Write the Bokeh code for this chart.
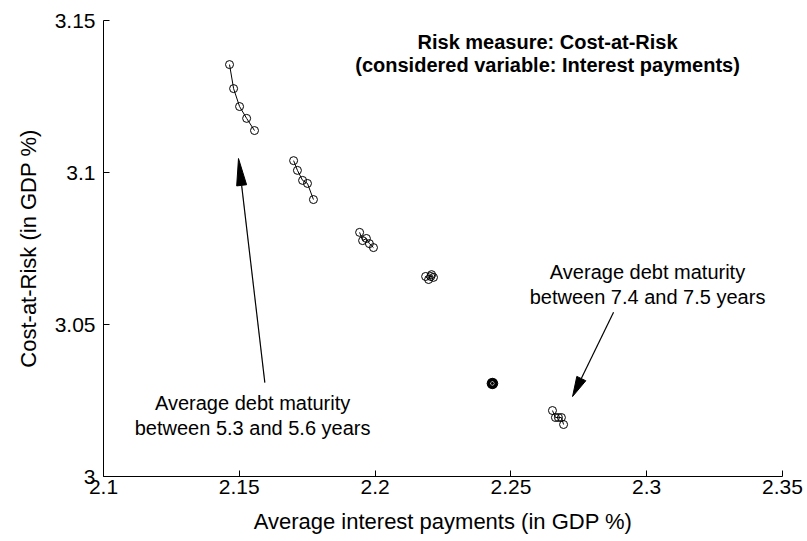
from bokeh.plotting import figure
from bokeh.models import Range1d, FixedTicker, CustomJSTickFormatter
from bokeh.core.properties import value
from bokeh.embed import file_html
from bokeh.resources import INLINE
import math

# ---- data ----
c1_x = [2.1464, 2.1479, 2.1501, 2.1527, 2.1556]
c1_y = [3.1355, 3.1276, 3.1217, 3.1178, 3.1138]
c2_x = [2.1700, 2.1714, 2.1733, 2.1751, 2.1773]
c2_y = [3.1039, 3.1007, 3.0974, 3.0964, 3.0911]
c3_x = [2.1943, 2.1954, 2.1968, 2.1979, 2.1994]
c3_y = [3.0803, 3.0776, 3.0783, 3.0766, 3.0753]
c4_x = [2.2186, 2.2197, 2.2208, 2.2215, 2.2205]
c4_y = [3.0658, 3.0648, 3.0664, 3.0655, 3.0658]
c5_x = [2.2427, 2.2432, 2.2437, 2.2432, 2.2432, 2.2429, 2.2435, 2.2429, 2.2435]
c5_y = [3.0306, 3.0306, 3.0306, 3.0302, 3.0310, 3.0303, 3.0309, 3.0309, 3.0303]
c6_x = [2.2653, 2.2664, 2.2675, 2.2686, 2.2694]
c6_y = [3.0217, 3.0194, 3.0194, 3.0194, 3.0171]
clusters = [(c1_x, c1_y), (c2_x, c2_y), (c3_x, c3_y), (c4_x, c4_y), (c5_x, c5_y), (c6_x, c6_y)]

x_ticks = [2.1, 2.15, 2.2, 2.25, 2.3, 2.35]
y_ticks = [3.0, 3.05, 3.1, 3.15]

x_label = "Average interest payments (in GDP %)"
y_label = "Cost-at-Risk (in GDP %)"
title_lines = ["Risk measure: Cost-at-Risk", "(considered variable: Interest payments)"]
title_pos = (2.2635, [3.1428, 3.1355])
left_note = ["Average debt maturity", "between 5.3 and 5.6 years"]
left_note_pos = (2.1549, [3.0243, 3.0158])
right_note = ["Average debt maturity", "between 7.4 and 7.5 years"]
right_note_pos = (2.3003, [3.0674, 3.0589])
left_arrow = ((2.1594, 3.0309), (2.1497, 3.1046))   # tail, tip
right_arrow = ((2.2878, 3.0540), (2.2727, 3.0263))

FONT = "Liberation Sans"
W, H = 807, 541
ML, MR, MT, MB = 103, 25, 20, 65
X0, X1, Y0, Y1 = 2.1, 2.35, 3.0, 3.15
sx = (W - ML - MR) / (X1 - X0)
sy = (H - MT - MB) / (Y1 - Y0)

p = figure(width=W, height=H, output_backend="svg", toolbar_location=None,
           x_range=Range1d(X0, X1), y_range=Range1d(Y0, Y1),
           min_border_left=ML, min_border_right=MR, min_border_top=MT, min_border_bottom=MB)
p.xgrid.visible = False
p.ygrid.visible = False
p.outline_line_color = None
p.background_fill_color = "white"
p.border_fill_color = "white"

fmt = CustomJSTickFormatter(code="return tick.toFixed(2).replace(/0+$/, '').replace(/\\.$/, '');")
for ax, ticks in ((p.xaxis[0], x_ticks), (p.yaxis[0], y_ticks)):
    ax.ticker = FixedTicker(ticks=ticks)
    ax.formatter = fmt
    ax.minor_tick_line_color = None
    ax.major_tick_in = 6
    ax.major_tick_out = 0
    ax.axis_line_color = "black"
    ax.major_tick_line_color = "black"
    ax.major_label_text_font = FONT
    ax.major_label_text_font_size = "21px"
    ax.major_label_text_color = "black"
    ax.axis_label_text_font = FONT
    ax.axis_label_text_font_size = "22px"
    ax.axis_label_text_font_style = "normal"
    ax.axis_label_text_color = "black"

p.xaxis.axis_label = x_label
p.yaxis.axis_label = y_label
p.xaxis.major_label_standoff = 3
p.yaxis.major_label_standoff = 8
p.xaxis.axis_label_standoff = 12
p.yaxis.axis_label_standoff = 11

for cx, cy in clusters:
    p.line(cx, cy, line_color="black", line_width=1)
    p.scatter(cx, cy, marker="circle", size=8, fill_color=None, line_color="black", line_width=1)

def add_text(x, ys, lines, bold=False, size="20px"):
    p.text(x=[x] * len(lines), y=ys, text=lines, text_font=value(FONT),
           text_font_size=size, text_font_style="bold" if bold else "normal",
           text_align="center", text_baseline="middle", text_color="black")

add_text(title_pos[0], title_pos[1], title_lines, bold=True, size="20px")
add_text(left_note_pos[0], left_note_pos[1], left_note)
add_text(right_note_pos[0], right_note_pos[1], right_note)

def add_arrow(tail, tip, head_len=26, half_w=5):
    tx, ty = tail
    hx, hy = tip
    dxp = (tx - hx) * sx
    dyp = (ty - hy) * sy
    L = math.hypot(dxp, dyp)
    ux, uy = dxp / L, dyp / L
    bx, by = ux * head_len, uy * head_len
    px_, py_ = -uy * half_w, ux * half_w
    base_x = hx + bx / sx
    base_y = hy + by / sy
    p.segment(x0=[tx], y0=[ty], x1=[base_x], y1=[base_y], line_color="black", line_width=1.2)
    xs = [hx, hx + (bx + px_) / sx, hx + (bx - px_) / sx]
    ys = [hy, hy + (by + py_) / sy, hy + (by - py_) / sy]
    p.patch(xs, ys, fill_color="black", line_color="black", line_width=1)

add_arrow(*left_arrow, head_len=27, half_w=5)
add_arrow(*right_arrow, head_len=20, half_w=5)

open("out.html", "w").write(file_html(p, INLINE))
